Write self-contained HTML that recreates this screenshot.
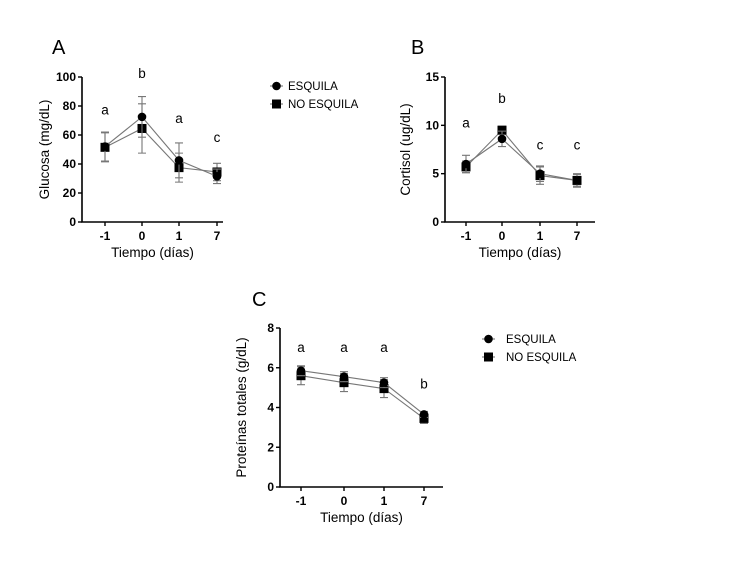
<!DOCTYPE html>
<html><head><meta charset="utf-8"><style>
body{margin:0;background:#fff;}
svg{display:block;font-family:"Liberation Sans",sans-serif;}
</style></head><body>
<svg id="s" width="749" height="564" viewBox="0 0 749 564"></svg>
<script>
const cats=["-1","0","1","7"];
const gluEsq=[52,72.5,42.5,31.5], gluEsqErr=[10,14,12,5];
const gluNo=[51.5,64.5,37.5,34.5], gluNoErr=[10,17,10,6];
const gluTicks=[0,20,40,60,80,100], gluLetters=["a","b","a","c"], gluLetterVals=[77,102,71,58];
const corEsq=[6.0,8.6,5.0,4.3], corEsqErr=[0.9,0.8,0.8,0.7];
const corNo=[5.7,9.5,4.8,4.3], corNoErr=[0.6,0.4,0.9,0.6];
const corTicks=[0,5,10,15], corLetters=["a","b","c","c"], corLetterVals=[10.2,12.7,7.9,7.9];
const proEsq=[5.85,5.55,5.25,3.65], proEsqErr=[0.25,0.25,0.25,0.15];
const proNo=[5.6,5.25,4.95,3.45], proNoErr=[0.45,0.45,0.45,0.25];
const proTicks=[0,2,4,6,8], proLetters=["a","a","a","b"], proLetterVals=[7.0,7.0,7.0,5.15];
const NS="http://www.w3.org/2000/svg", svg=document.getElementById('s');
function el(t,a,p){const e=document.createElementNS(NS,t);for(const k in a)e.setAttribute(k,a[k]);(p||svg).appendChild(e);return e;}
function txt(s,a,p){const e=el('text',a,p);e.textContent=s;return e;}
function chart(o){
 const g=el('g',{});
 
 
 const y=v=>o.y0-(v-o.min)/(o.max-o.min)*(o.y0-o.y1);
 const x=i=>o.xs[i];
 txt(o.panel,{x:o.px,y:o.py,'font-size':20});
 const ax=el('path',{d:`M${o.ax} ${o.y1}V${o.y0}H${o.xe}`,stroke:'#000','stroke-width':1.6,fill:'none'},g);
 
 o.ticks.forEach(t=>{el('line',{x1:o.ax-4,x2:o.ax,y1:y(t),y2:y(t),stroke:'#000','stroke-width':1.4},g);
  const l=txt(String(t),{x:o.ax-6,y:y(t)+4,'text-anchor':'end','font-size':12,'font-weight':'bold'},g);
  });
 cats.forEach((c,i)=>{el('line',{x1:x(i),x2:x(i),y1:o.y0,y2:o.y0+4,stroke:'#000','stroke-width':1.4},g);
  const l=txt(c,{x:x(i),y:o.y0+18,'text-anchor':'middle','font-size':12,'font-weight':'bold'},g);
  });
 const xl=txt('Tiempo (días)',{x:(o.ax+o.xe)/2,y:o.y0+35,'text-anchor':'middle','font-size':13.5},g);
 
 const yl=txt(o.ylab,{x:0,y:0,transform:`translate(${o.ylx},${(o.y0+o.y1)/2}) rotate(-90)`,'text-anchor':'middle','font-size':13.5},g);
 
 [[o.no,o.noErr,'sq'],[o.esq,o.esqErr,'ci']].forEach(([v,e,m])=>{
  el('polyline',{points:v.map((d,i)=>x(i)+','+y(d)).join(' '),fill:'none',stroke:'#777','stroke-width':1.1},g);
  v.forEach((d,i)=>{const X=x(i);
   el('path',{d:`M${X} ${y(d-e[i])}V${y(d+e[i])}M${X-4} ${y(d-e[i])}h8M${X-4} ${y(d+e[i])}h8`,stroke:'#777','stroke-width':1.1,fill:'none'},g);
   const mk=m=='sq'?el('rect',{x:X-4.5,y:y(d)-4.5,width:9,height:9,fill:'#000'},g):el('circle',{cx:X,cy:y(d),r:4.3,fill:'#000'},g);
   });
 });
 o.letters.forEach((l,i)=>{const t=txt(l,{x:x(i),y:y(o.lv[i])+4,'text-anchor':'middle','font-size':13.5},g);
  });
 if(o.lx){[['ESQUILA','ci'],['NO ESQUILA','sq']].forEach(([n,m],k)=>{const ly=o.ly+k*18;
  const lg=el('g',{},g);
  el('line',{x1:o.lx,x2:o.lx+13,y1:ly,y2:ly,stroke:'#777','stroke-width':1.1},lg);
  if(m=='sq')el('rect',{x:o.lx+2,y:ly-4.5,width:9,height:9,fill:'#000'},lg);else el('circle',{cx:o.lx+6.5,cy:ly,r:4.3,fill:'#000'},lg);
  txt(n,{x:o.lx+o.lt,y:ly+4,'font-size':11.5},lg);});}
}
chart({name:'chart-glucosa',panel:'A',px:52,py:54,ax:82,xe:223,y0:222,y1:77,min:0,max:100,xs:[105,142,179,217],ticks:gluTicks,ylab:'Glucosa (mg/dL)',ylx:49,
 esq:gluEsq,esqErr:gluEsqErr,no:gluNo,noErr:gluNoErr,letters:gluLetters,lv:gluLetterVals,lx:270,ly:86,lt:18});
chart({name:'chart-cortisol',panel:'B',px:411,py:54,ax:445,xe:595,y0:222,y1:77,min:0,max:15,xs:[466,502,540,577],ticks:corTicks,ylab:'Cortisol (ug/dL)',ylx:410,
 esq:corEsq,esqErr:corEsqErr,no:corNo,noErr:corNoErr,letters:corLetters,lv:corLetterVals});
chart({name:'chart-proteinas',panel:'C',px:252,py:306,ax:280,xe:443,y0:487,y1:328,min:0,max:8,xs:[301,344,384,424],ticks:proTicks,ylab:'Proteínas totales (g/dL)',ylx:246,
 esq:proEsq,esqErr:proEsqErr,no:proNo,noErr:proNoErr,letters:proLetters,lv:proLetterVals,lx:482,ly:339,lt:24});
</script>
</body></html>
